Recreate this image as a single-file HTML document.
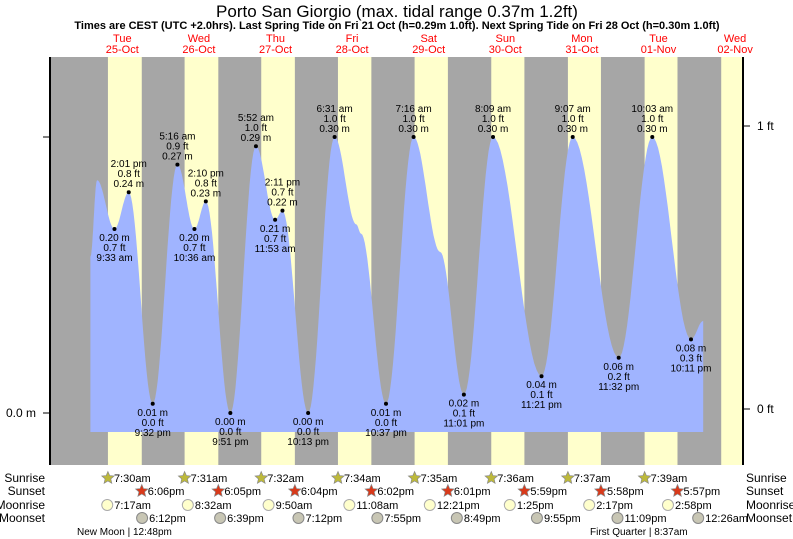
<!DOCTYPE html>
<html><head><meta charset="utf-8"><style>
body{margin:0;background:#fff;}
svg{display:block;font-family:"Liberation Sans",sans-serif;}
</style></head><body>
<svg id="chart" width="793" height="539" viewBox="0 0 793 539" xmlns="http://www.w3.org/2000/svg">
<text x="397" y="17" font-size="17" text-anchor="middle" fill="#000">Porto San Giorgio (max. tidal range 0.37m 1.2ft)</text>
<text x="397" y="29" font-size="11" font-weight="bold" text-anchor="middle" fill="#000">Times are CEST (UTC +2.0hrs). Last Spring Tide on Fri 21 Oct (h=0.29m 1.0ft). Next Spring Tide on Fri 28 Oct (h=0.30m 1.0ft)</text>
<g id="bg"></g><g id="tide"></g><g id="labels"></g><g id="axes"></g><g id="days"></g><g id="astro"></g>
</svg>
<script>
// hours since Tue 25-Oct 00:00
const dayNames=["Tue","Wed","Thu","Fri","Sat","Sun","Mon","Tue","Wed"];
const dayDates=["25-Oct","26-Oct","27-Oct","28-Oct","29-Oct","30-Oct","31-Oct","01-Nov","02-Nov"];
const sunrise=[7.5,7+31/60,7+32/60,7+34/60,7+35/60,7+36/60,7+37/60,7+39/60,7.65];
const sunset=[18.1,18+5/60,18+4/60,18+2/60,18+1/60,17+59/60,17+58/60,17+57/60,17.93];
const sunriseLbl=["7:30am","7:31am","7:32am","7:34am","7:35am","7:36am","7:37am","7:39am"];
const sunsetLbl=["6:06pm","6:05pm","6:04pm","6:02pm","6:01pm","5:59pm","5:58pm","5:57pm"];
const moonrise=[7+17/60,8+32/60,9+50/60,11+8/60,12+21/60,13+25/60,14+17/60,14+58/60];
const moonriseLbl=["7:17am","8:32am","9:50am","11:08am","12:21pm","1:25pm","2:17pm","2:58pm"];
const moonset=[18.2,18.65,19.2,19+55/60,20+49/60,21+55/60,23+9/60,24+26/60];
const moonsetLbl=["6:12pm","6:39pm","7:12pm","7:55pm","8:49pm","9:55pm","11:09pm","12:26am"];
// tide extremes: time (h), height (m), type, label
const tideT=[2.0,4.1,9.55,14.02,21.53,29.27,34.6,38.17,45.85,53.87,59.88,62.18,70.22,78.52,85.3,86.8,94.62,103.27,111.6,119.02,128.15,143.35,153.12,167.53,178.05,190.18,194.0];
const tideH=[0.17,0.253,0.20,0.24,0.01,0.27,0.20,0.23,0.00,0.29,0.21,0.22,0.00,0.30,0.205,0.195,0.01,0.30,0.175,0.02,0.30,0.04,0.30,0.06,0.30,0.08,0.10];
const tideType=["","","L","H","L","H","L","H","L","H","L","H","L","H","","","L","H","","L","H","L","H","L","H","L",""];
const tideTime=["","","9:33 am","2:01 pm","9:32 pm","5:16 am","10:36 am","2:10 pm","9:51 pm","5:52 am","11:53 am","2:11 pm","10:13 pm","6:31 am","","","10:37 pm","7:16 am","","11:01 pm","8:09 am","11:21 pm","9:07 am","11:32 pm","10:03 am","10:11 pm",""];
const tideFt=["","","0.7","0.8","0.0","0.9","0.7","0.8","0.0","1.0","0.7","0.7","0.0","1.0","","","0.0","1.0","","0.1","1.0","0.1","1.0","0.2","1.0","0.3",""];

const X0=84,PXH=76.6/24,Y0=413,PXM=920;
const xs=t=>X0+t*PXH, ys=h=>Y0-h*PXM;
const NS="http://www.w3.org/2000/svg";
function mk(tag,attrs,parent,txt){const e=document.createElementNS(NS,tag);for(const k in attrs)e.setAttribute(k,attrs[k]);if(txt!==undefined)e.textContent=txt;parent.appendChild(e);return e;}
const bg=document.getElementById('bg');
let r=mk('rect',{x:50,y:57,width:693,height:408,fill:'#a6a6a6'},bg);


for(let d=0;d<9;d++){
  const x1=xs(d*24+sunrise[d]), x2=Math.min(743,xs(d*24+sunset[d]));
  if(x1>=743)continue;
  const b=mk('rect',{x:x1,y:57,width:x2-x1,height:408,fill:'#ffffcc'},bg);
  
  
}
// tide curve
const tg=document.getElementById('tide');
let pts=[[xs(tideT[0]),432]];
for(let i=0;i<tideT.length-1;i++){
  const t0=tideT[i],t1=tideT[i+1],h0=tideH[i],h1=tideH[i+1];
  for(let s=0;s<=20;s++){const f=s/20;const h=h0+(h1-h0)*(1-Math.cos(Math.PI*f))/2;pts.push([xs(t0+(t1-t0)*f),ys(h)]);}
}
pts.push([xs(tideT[tideT.length-1]),432]);
const poly=mk('polygon',{points:pts.map(p=>p[0].toFixed(1)+','+p[1].toFixed(1)).join(' '),fill:'#a0b4ff'},tg);


// labels
const lg=document.getElementById('labels');
for(let i=0;i<tideT.length;i++){
  if(!tideType[i])continue;
  const x=xs(tideT[i]),y=ys(tideH[i]);
  const dot=mk('circle',{cx:x,cy:y,r:2,fill:'#000'},lg);
  
  
  const m=tideH[i].toFixed(2)+' m',ft=tideFt[i]+' ft';
  const lines=tideType[i]=='H'?[tideTime[i],ft,m]:[m,ft,tideTime[i]];
  const base=tideType[i]=='H'?y-25:y+12;
  const g=mk('text',{x:x,y:base,'font-size':10,'text-anchor':'middle',fill:'#000'},lg);
  
  
  lines.forEach((l,k)=>mk('tspan',{x:x,y:base+k*10},g,l));
}
// axes
const ax=document.getElementById('axes');
mk('line',{x1:50,y1:57,x2:50,y2:465,stroke:'#000','stroke-width':2},ax);
mk('line',{x1:743,y1:57,x2:743,y2:465,stroke:'#000','stroke-width':2},ax);
mk('line',{x1:43,y1:413,x2:50,y2:413,stroke:'#000'},ax);
mk('line',{x1:43,y1:137,x2:50,y2:137,stroke:'#000'},ax);
let t=mk('text',{x:36,y:417,'font-size':12,'text-anchor':'end'},ax,'0.0 m');


mk('line',{x1:743,y1:409,x2:750,y2:409,stroke:'#000'},ax);
mk('line',{x1:743,y1:126,x2:750,y2:126,stroke:'#000'},ax);
t=mk('text',{x:757,y:413,'font-size':12},ax,'0 ft');


t=mk('text',{x:757,y:130,'font-size':12},ax,'1 ft');


// days
const dg=document.getElementById('days');
for(let d=0;d<9;d++){
  const x=Math.min(xs(d*24+12),765);
  const a=mk('text',{x:x,y:42,'font-size':11,'text-anchor':'middle',fill:'#ff0000'},dg,dayNames[d]);
  
  
  const b=mk('text',{x:x,y:53,'font-size':11,'text-anchor':'middle',fill:'#ff0000'},dg,dayDates[d]);
  
  
}
// astro rows
const ag=document.getElementById('astro');
const rows=[["Sunrise",478],["Sunset",491],["Moonrise",505],["Moonset",518]];
rows.forEach(rw=>{
  let a=mk('text',{x:45,y:rw[1]+4,'font-size':12,'text-anchor':'end'},ag,rw[0]);
  
  
  a=mk('text',{x:746,y:rw[1]+4,'font-size':12},ag,rw[0]);
  
  
});
function star(cx,cy,fill){let p=[];for(let k=0;k<10;k++){const rr=k%2?3:6.5,an=-Math.PI/2+k*Math.PI/5;p.push((cx+rr*Math.cos(an)).toFixed(1)+','+(cy+rr*Math.sin(an)).toFixed(1));}return mk('polygon',{points:p.join(' '),fill:fill,stroke:'#888','stroke-width':0.7},ag);}
for(let d=0;d<8;d++){
  let x=xs(d*24+sunrise[d]);let s=star(x,478,'#bdb93b');
  
  
  let tx=mk('text',{x:x+6,y:482,'font-size':11},ag,sunriseLbl[d]);
  
  
  x=xs(d*24+sunset[d]);s=star(x,491,'#d9391a');
  
  
  tx=mk('text',{x:x+6,y:495,'font-size':11},ag,sunsetLbl[d]);
  
  
  x=xs(d*24+moonrise[d]);let c=mk('circle',{cx:x,cy:505,r:5.5,fill:'#ffffcc',stroke:'#aaa'},ag);
  
  
  tx=mk('text',{x:x+7,y:509,'font-size':11},ag,moonriseLbl[d]);
  
  
  x=xs(d*24+moonset[d]);c=mk('circle',{cx:x,cy:518,r:5.5,fill:'#c8c6b4',stroke:'#888'},ag);
  
  
  tx=mk('text',{x:x+7,y:522,'font-size':11},ag,moonsetLbl[d]);
  
  
}
let ph=mk('text',{x:77,y:535,'font-size':10},ag,'New Moon | 12:48pm');


ph=mk('text',{x:590,y:535,'font-size':10},ag,'First Quarter | 8:37am');


</script>
</body></html>
